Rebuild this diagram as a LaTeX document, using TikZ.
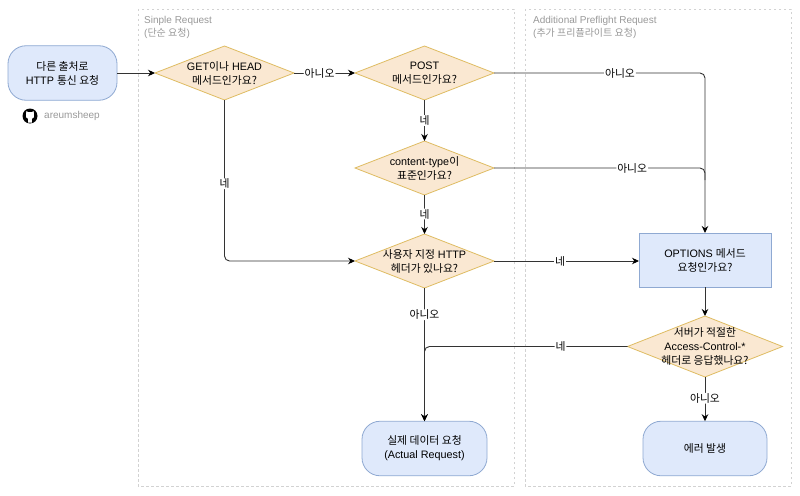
\documentclass[tikz,border=0pt]{standalone}
\usepackage{fontspec}
\setmainfont{Liberation Sans}
\newfontfamily\krfont{Noto Sans CJK KR}
\newcommand{\K}[1]{{\krfont #1}}
\usetikzlibrary{shapes.geometric,arrows.meta}
\definecolor{blueF}{HTML}{DFE9FB}
\definecolor{blueD}{HTML}{8FA9D2}
\definecolor{orgF}{HTML}{FAE8D2}
\definecolor{orgD}{HTML}{DFBC62}
\definecolor{edgeC}{HTML}{333333}
\definecolor{zoneC}{HTML}{D2D2D2}
\definecolor{capC}{HTML}{999999}
\tikzset{
  base/.style={font=\fontsize{10.8}{14}\selectfont,align=center,text=black,line width=0.8pt,outer sep=0pt},
  decision/.style={base,diamond,draw=orgD,fill=orgF,inner sep=-14pt,aspect=2.57,minimum width=139pt,minimum height=54pt},
  pill/.style={base,draw=blueD,fill=blueF,rounded corners=18pt,minimum height=54.5pt},
  boxN/.style={base,draw=blueD,fill=blueF,minimum width=132pt,minimum height=54pt},
  zone/.style={draw=zoneC,line width=0.8pt,dash pattern=on 2.5pt off 2.5pt},
  caption/.style={font=\fontsize{10}{13}\selectfont,text=capC,align=left,anchor=north west,inner sep=0pt},
  link/.style={draw=edgeC,line width=0.9pt,rounded corners=5pt},
  arr/.style={link,-{Stealth[length=7pt,width=6.5pt,color=black]}},
  lab/.style={font=\fontsize{10.8}{12}\selectfont,fill=white,inner xsep=1pt,inner ysep=0.5pt,text=black},
}
\begin{document}
\begin{tikzpicture}[x=1pt,y=-1pt]
\useasboundingbox (0,0) rectangle (800,495);
\fill[white] (0,0) rectangle (800,495);
% zones
\draw[zone] (138,9) rectangle (514,486);
\draw[zone] (525,9) rectangle (791,486);
\node[caption] (capA) at (144,16.5) {Sinple Request\\(\K{단순 요청})};
\node[caption] (capB) at (533,16.5) {Additional Preflight Request\\(\K{추가 프리플라이트 요청})};
% nodes
\node[pill,minimum width=109pt] (start) at (62.5,73) {\K{다른 출처로}\\HTTP \K{통신 요청}};
\node[decision] (d1) at (224.5,73) {GET\K{이나} HEAD\\\K{메서드인가요?}};
\node[decision] (post) at (424.5,73) {POST\\\K{메서드인가요?}};
\node[decision] (ctype) at (424.5,168) {content-type\K{이}\\\K{표준인가요?}};
\node[decision] (custom) at (424.5,261) {\K{사용자 지정} HTTP\\\K{헤더가 있나요?}};
\node[boxN] (opt) at (705,260) {OPTIONS \K{메서드}\\\K{요청인가요?}};
\node[decision,aspect=2.54,minimum width=155pt,minimum height=61pt] (srv) at (705,346.5) {\K{서버가 적절한}\\Access-Control-*\\\K{헤더로 응답했나요?}};
\node[pill,minimum width=125pt] (actual) at (424.5,448.5) {\K{실제 데이터 요청}\\(Actual Request)};
\node[pill,minimum width=124pt] (err) at (705,448.5) {\K{에러 발생}};
% connectors
\draw[arr] (start.east) -- (d1.west);
\draw[arr] (d1.east) -- node[lab,pos=.42] (l1) {\K{아니오}} (post.west);
\draw[arr] (d1.south) -- node[lab,pos=.52] (l2) {\K{네}} (224.5,261) -- (custom.west);
\draw[arr] (post.east) -- node[lab,pos=.597] (l3) {\K{아니오}} (opt.north |- post.east) -- (opt.north);
\draw[link] (ctype.east) -- node[lab,pos=.655] (l4) {\K{아니오}} (opt.north |- ctype.east) -- ([yshift=-12pt]opt.north |- ctype.east);
\draw[arr] (post.south) -- node[lab,pos=.5] (l5) {\K{네}} (ctype.north);
\draw[arr] (ctype.south) -- node[lab,pos=.49] (l6) {\K{네}} (custom.north);
\draw[arr] (custom.east) -- node[lab,pos=.455] (l7) {\K{네}} (custom.east -| opt.west);
\draw[arr] (opt.south) -- (srv.north);
\draw[arr] (custom.south) -- node[lab,pos=.2] (l8) {\K{아니오}} (actual.north);
\draw[arr] (srv.west) -- node[lab,pos=.33] (l9) {\K{네}} (actual.north |- srv.west) -- (actual.north);
\draw[arr] (srv.south) -- node[lab,pos=.48] (l10) {\K{아니오}} (err.north);
% github mark
\fill[black] (30,116) circle (7.5);
\fill[white] (26.2,113.8) -- (26.3,110.9) -- (28.3,112.2) -- (31.7,112.2) -- (33.7,110.9) -- (33.8,113.8)
  .. controls (35,116.5) and (33.5,118.6) .. (31.8,118.9) -- (31.8,122.6) -- (28.2,122.6) -- (28.2,118.9)
  .. controls (26.5,118.6) and (25,116.5) .. (26.2,113.8) -- cycle;
\node[font=\fontsize{10}{12}\selectfont,text=capC,anchor=west,inner sep=0pt] (gh) at (44,116) {areumsheep};
\end{tikzpicture}
\end{document}
